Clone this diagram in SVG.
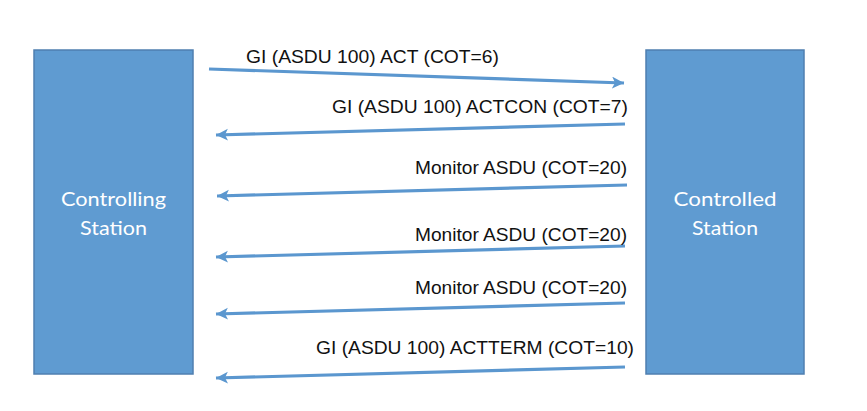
<svg xmlns="http://www.w3.org/2000/svg" width="867" height="411" viewBox="0 0 867 411">
<style>
.box{fill:#5F9BD1;stroke:#4F7FB0;stroke-width:1.5}
.name{font-family:"Lato","Open Sans",sans-serif;font-size:20px;fill:#FFFFFF;text-anchor:middle}
.msg{fill:none;stroke:#5B97CF;stroke-width:3.2}
.lbl{font-family:"Liberation Sans",Arial,sans-serif;font-size:18px;fill:#111111}
</style>
<defs>
<marker id="ah" markerUnits="userSpaceOnUse" markerWidth="14" markerHeight="14" refX="12" refY="6" orient="auto">
<path d="M0,0 L12,6 L0,12 L3,6 Z" fill="#5B97CF"/>
</marker>
</defs>
<rect width="867" height="411" fill="#FFFFFF"/>
<g id="controlling">
<rect class="box" x="34" y="50" width="159" height="324"/>
<text class="name" x="113.5" y="206" textLength="105" lengthAdjust="spacingAndGlyphs">Controlling</text>
<text class="name" x="113.5" y="235" textLength="67" lengthAdjust="spacingAndGlyphs">Station</text>
</g>
<g id="controlled">
<rect class="box" x="646" y="50" width="158" height="324"/>
<text class="name" x="725" y="206" textLength="103" lengthAdjust="spacingAndGlyphs">Controlled</text>
<text class="name" x="725" y="235" textLength="66" lengthAdjust="spacingAndGlyphs">Station</text>
</g>
<g id="connectors">
<line class="msg" x1="209" y1="69" x2="624" y2="83" marker-end="url(#ah)"/>
<line class="msg" x1="625" y1="124" x2="216" y2="135" marker-end="url(#ah)"/>
<line class="msg" x1="627" y1="185" x2="217" y2="196" marker-end="url(#ah)"/>
<line class="msg" x1="625" y1="246" x2="216" y2="257" marker-end="url(#ah)"/>
<line class="msg" x1="625" y1="303" x2="216" y2="314" marker-end="url(#ah)"/>
<line class="msg" x1="625" y1="367" x2="216" y2="378" marker-end="url(#ah)"/>
</g>
<g id="labels">
<text class="lbl" x="246" y="63" textLength="253" lengthAdjust="spacingAndGlyphs">GI (ASDU 100) ACT (COT=6)</text>
<text class="lbl" x="332" y="113" textLength="296" lengthAdjust="spacingAndGlyphs">GI (ASDU 100) ACTCON (COT=7)</text>
<text class="lbl" x="415" y="174" textLength="212" lengthAdjust="spacingAndGlyphs">Monitor ASDU (COT=20)</text>
<text class="lbl" x="415" y="241" textLength="212" lengthAdjust="spacingAndGlyphs">Monitor ASDU (COT=20)</text>
<text class="lbl" x="415" y="294" textLength="212" lengthAdjust="spacingAndGlyphs">Monitor ASDU (COT=20)</text>
<text class="lbl" x="316" y="354" textLength="318" lengthAdjust="spacingAndGlyphs">GI (ASDU 100) ACTTERM (COT=10)</text>
</g>
</svg>
